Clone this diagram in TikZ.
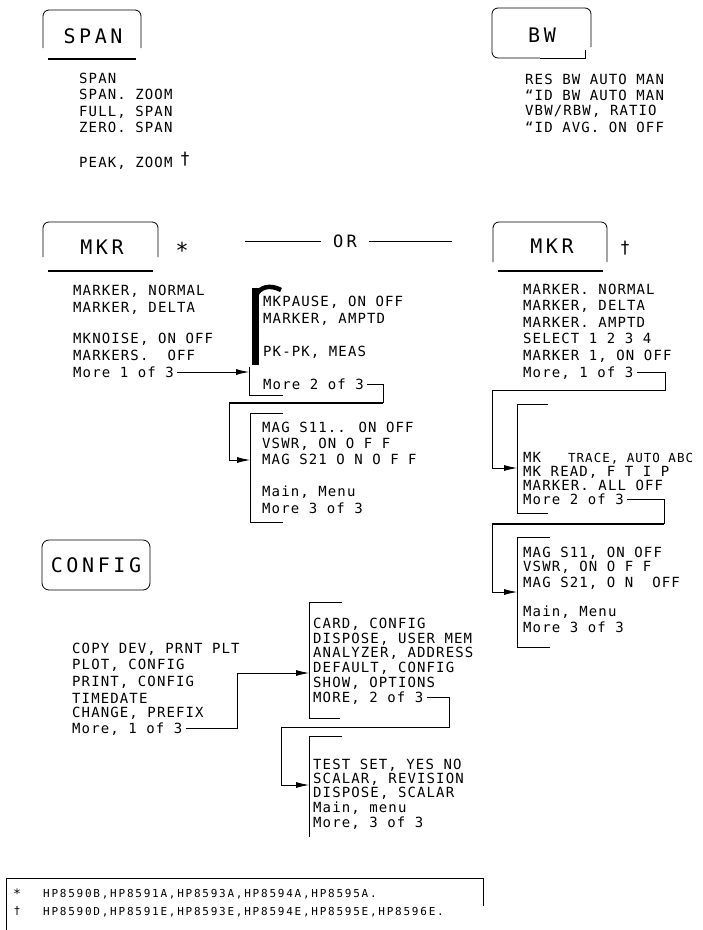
\documentclass[tikz,border=0pt]{standalone}
\usepackage{fontspec}
\usepackage{tikz}
\usetikzlibrary{arrows.meta}
\newfontfamily\plotfont[LetterSpace=8]{DejaVu Sans Mono}
\newfontfamily\plotkeyfont[LetterSpace=18]{DejaVu Sans Mono}
\newfontfamily\plotnotefont[LetterSpace=16]{DejaVu Sans Mono}
\newfontfamily\plotsymfont{DejaVu Sans}

\begin{document}
\begin{tikzpicture}[x=1pt,y=-1pt,
  every node/.style={inner sep=0pt},
  item/.style={anchor=base west,font=\plotfont\fontsize{14}{16}\selectfont},
  keylabel/.style={font=\plotkeyfont\fontsize{20}{24}\selectfont},
  note/.style={anchor=base west,font=\plotnotefont\fontsize{11}{13}\selectfont},
  sym/.style={font=\plotsymfont\fontsize{17}{20}\selectfont},
  keyline/.style={line width=0.8pt,rounded corners=6pt},
  bar/.style={line width=2.4pt},
  wire/.style={line width=0.8pt},
  thickwire/.style={line width=2pt},
  feed/.style={line width=0.8pt,-{Latex[length=13pt,width=6pt]}}]
\useasboundingbox (0,0) rectangle (703,930);

\draw[keyline] (43,48) -- (43,10) -- (141,10) -- (141,48);
\draw[bar] (48,59) -- (136,59);
\node[keylabel] (spankey) at (93,36) {SPAN};
\node[item] (span1) at (79,83) {SPAN};
\node[item] (span2) at (79,99.5) {SPAN. ZOOM};
\node[item] (span3) at (79,116) {FULL, SPAN};
\node[item] (span4) at (79,132.5) {ZERO. SPAN};
\node[item] (span5) at (79,167) {PEAK, ZOOM};
\node[sym] (spandag) at (185,159) {†};

\draw[keyline] (591,47) -- (591,8) -- (492,8) -- (492,58) -- (540,58);
\draw[wire] (540,58) -- (585,58) -- (585,50);
\node[keylabel] (bwkey) at (542,35) {BW};
\node[item] (bw1) at (525,84.5) {RES BW AUTO MAN};
\node[item] (bw2) at (525,100) {“ID BW AUTO MAN};
\node[item] (bw3) at (525,115.5) {VBW/RBW, RATIO};
\node[item] (bw4) at (525,132) {“ID AVG. ON OFF};

\draw[keyline] (43,257) -- (43,222) -- (158,222) -- (158,257);
\draw[bar] (48,271) -- (153,271);
\node[keylabel] (mkrakey) at (102,247) {MKR};
\node[sym,font=\plotsymfont\fontsize{22}{24}\selectfont] (mkrstar) at (182,250) {*};
\node[item] (mka1) at (73,295) {MARKER, NORMAL};
\node[item] (mka2) at (73,312) {MARKER, DELTA};
\node[item] (mka3) at (73,343) {MKNOISE, ON OFF};
\node[item] (mka4) at (73,360) {MARKERS.~~OFF};
\node[item] (mka5) at (73,377) {More 1 of 3};

\coordinate (orwest) at (245,241);
\coordinate (oreast) at (452,241);
\node[keylabel,font=\plotkeyfont\fontsize{17}{20}\selectfont] (orlabel) at (345,241) {OR};
\draw[wire] (orwest) -- ([xshift=-12pt]orlabel.west);
\draw[wire] ([xshift=12pt]orlabel.east) -- (oreast);

\draw[keyline] (493,262) -- (493,222) -- (607,222) -- (607,262);
\draw[bar] (498,271) -- (603,271);
\node[keylabel] (mkrbkey) at (552,246) {MKR};
\node[sym] (mkrdag) at (625,248) {†};
\node[item] (mkb1) at (523,294) {MARKER. NORMAL};
\node[item] (mkb2) at (523,310.6) {MARKER, DELTA};
\node[item] (mkb3) at (523,327.2) {MARKER. AMPTD};
\node[item] (mkb4) at (523,343.8) {SELECT 1 2 3 4};
\node[item] (mkb5) at (523,360.4) {MARKER 1, ON OFF};
\node[item] (mkb6) at (523,377) {More, 1 of 3};

\draw[line width=7pt] (255.5,288) -- (255.5,365);
\draw[line width=4.5pt] (256,296) .. controls (259,287) and (270,284) .. (281,290);
\node[item] (pa1) at (263,306) {MKPAUSE, ON OFF};
\node[item] (pa2) at (263,323) {MARKER, AMPTD};
\node[item] (pa3) at (263,356) {PK-PK, MEAS};
\node[item] (pa4) at (263,389) {More 2 of 3};
\coordinate (pain) at (249,372);
\draw[wire] (283,395) -- (249,395) -- (249,367);
\draw[feed] ([xshift=3pt,yshift=5pt]mka5.base east) -- (pain);

\coordinate (paturn) at (383,403);
\coordinate (paback) at (229,403);
\coordinate (pbin) at (250,460);
\draw[wire] ([xshift=3pt,yshift=5pt]pa4.base east) -| (paturn);
\draw[thickwire] (paturn) -- (paback);
\draw[feed] (paback) |- (pbin);
\draw[wire] (283,413) -- (250,413) -- (250,522) -- (283,522);
\node[item] (pb1) at (262,432) {MAG S11.. ON OFF};
\node[item] (pb2) at (262,448) {VSWR, ON O F F};
\node[item] (pb3) at (262,464) {MAG S21 O N O F F};
\node[item] (pb4) at (262,496) {Main, Menu};
\node[item] (pb5) at (262,513) {More 3 of 3};

\coordinate (mkbturn) at (665,390);
\coordinate (mkbback) at (492,390);
\coordinate (qbin) at (517,468);
\draw[wire] ([xshift=3pt,yshift=5pt]mkb6.base east) -| (mkbturn) -- (mkbback);
\draw[feed] (mkbback) |- (qbin);
\draw[wire] (548,404) -- (517,404) -- (517,513) -- (548,513);
\node[item] (qb1) at (523,462) {MK\hspace{27pt}{\fontsize{12.5}{15}\selectfont TRACE, AUTO ABC}};
\node[item] (qb2) at (523,476) {MK READ, F T I P};
\node[item] (qb3) at (523,490) {MARKER. ALL OFF};
\node[item] (qb4) at (523,504) {More 2 of 3};

\coordinate (qbturn) at (664,524);
\coordinate (qbback) at (492,524);
\coordinate (qcin) at (517,592);
\draw[wire] ([xshift=3pt,yshift=5pt]qb4.base east) -| (qbturn);
\draw[thickwire] (qbturn) -- (qbback);
\draw[feed] (qbback) |- (qcin);
\draw[wire] (550,537) -- (517,537) -- (517,647) -- (550,647);
\node[item] (qc1) at (523,557) {MAG S11, ON OFF};
\node[item] (qc2) at (523,571) {VSWR, ON O F F};
\node[item] (qc3) at (523,587) {MAG S21, O N~~OFF};
\node[item] (qc4) at (523,616) {Main, Menu};
\node[item] (qc5) at (523,632) {More 3 of 3};

\node[keylabel,draw,line width=0.8pt,rounded corners=7pt,minimum width=108pt,minimum height=50pt] (cfgkey) at (96,565) {CONFIG};
\node[item] (cfa1) at (72,653) {COPY DEV, PRNT PLT};
\node[item] (cfa2) at (72,669) {PLOT, CONFIG};
\node[item] (cfa3) at (72,686) {PRINT, CONFIG};
\node[item] (cfa4) at (72,703) {TIMEDATE};
\node[item] (cfa5) at (72,717) {CHANGE, PREFIX};
\node[item] (cfa6) at (72,733) {More, 1 of 3};

\coordinate (cfaup) at (237,673);
\coordinate (cfbin) at (309,673);
\draw[wire] ([xshift=3pt,yshift=5pt]cfa6.base east) -| (cfaup);
\draw[feed] (cfaup) -- (cfbin);
\draw[wire] (342,602) -- (309,602) -- (309,718) -- (340,718);
\node[item] (cfb1) at (313,628) {CARD, CONFIG};
\node[item] (cfb2) at (313,643) {DISPOSE, USER MEM};
\node[item] (cfb3) at (313,657) {ANALYZER, ADDRESS};
\node[item] (cfb4) at (313,672) {DEFAULT, CONFIG};
\node[item] (cfb5) at (313,687) {SHOW, OPTIONS};
\node[item] (cfb6) at (313,702) {MORE, 2 of 3};

\coordinate (cfbturn) at (449,727);
\coordinate (cfbback) at (281,727);
\coordinate (cfcin) at (309,785);
\draw[wire] ([xshift=3pt,yshift=5pt]cfb6.base east) -| (cfbturn) -- (cfbback);
\draw[feed] (cfbback) |- (cfcin);
\draw[wire] (342,736) -- (309,736) -- (309,837);
\node[item] (cfc1) at (313,769) {TEST SET, YES NO};
\node[item] (cfc2) at (313,783) {SCALAR, REVISION};
\node[item] (cfc3) at (313,797) {DISPOSE, SCALAR};
\node[item] (cfc4) at (313,812) {Main, menu};
\node[item] (cfc5) at (313,827) {More, 3 of 3};

\draw[wire] (6,930) -- (6,878) -- (483,878) -- (483,906);
\node[sym,font=\plotsymfont\fontsize{13}{15}\selectfont] (notestar) at (17,894) {*};
\node[sym,font=\plotsymfont\fontsize{11}{13}\selectfont] (notedag) at (17,911) {†};
\node[note] (noteb) at (43,897) {HP8590B,HP8591A,HP8593A,HP8594A,HP8595A.};
\node[note] (noted) at (43,915) {HP8590D,HP8591E,HP8593E,HP8594E,HP8595E,HP8596E.};
\end{tikzpicture}
\end{document}
